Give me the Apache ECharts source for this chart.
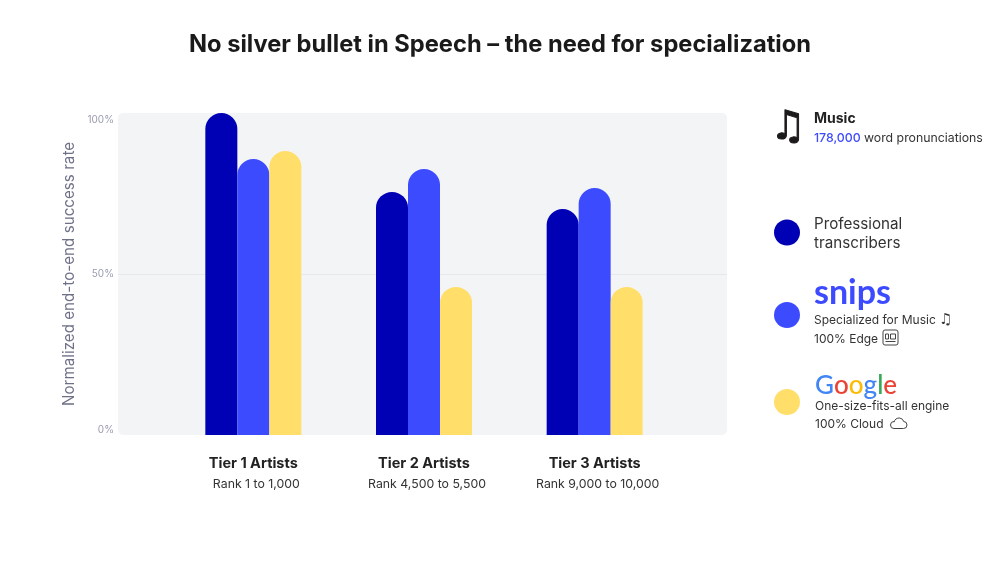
<!DOCTYPE html>
<html><head><meta charset="utf-8">
<style>html,body{margin:0;padding:0;background:#fff}#c{width:1000px;height:562px}</style>
<script src="https://cdn.jsdelivr.net/npm/echarts@6/dist/echarts.min.js"></script>
</head><body><div id="c"></div>
<script>
const FONT = 'Inter';
const titleText = 'No silver bullet in Speech – the need for specialization';
const yAxisTitle = 'Normalized end-to-end success rate';
const categories = ['Tier 1 Artists', 'Tier 2 Artists', 'Tier 3 Artists'];
const categorySubs = ['Rank 1 to 1,000', 'Rank 4,500 to 5,500', 'Rank 9,000 to 10,000'];
const seriesNames = ['Professional transcribers', 'snips', 'Google'];
const professional = [100, 75.5, 70.2];
const snips = [85.7, 82.6, 76.7];
const google = [88.2, 46, 46];
const colors = ['#0000b4', '#3d4bff', '#ffdf6a'];

const chart = echarts.init(document.getElementById('c'), null, {renderer: 'canvas'});
const top_ = 113, bottom_ = 127;
const sub = {fontFamily: FONT, fontSize: 12, color: '#333', lineHeight: 19};
const sub2 = {fontFamily: FONT, fontSize: 12, color: '#333', lineHeight: 18};
const logoG = c => ({fontFamily: 'Lato', fontSize: 26, fontWeight: 500, color: c, lineHeight: 22});

function bar(name, data, i) {
  return {name, type: 'bar', xAxisIndex: 1, yAxisIndex: 1, data, barWidth: 32, barGap: 0,
    itemStyle: {color: colors[i], borderRadius: [16, 16, 0, 0]}, silent: true};
}
function legend(name, y, formatter, rich, pad) {
  return {show: true, data: [{name, icon: 'circle'}], orient: 'vertical', left: 774, top: y,
    itemWidth: 26, itemHeight: 26, itemGap: 0, padding: 0, selectedMode: false, formatter,
    textStyle: {padding: pad, rich}};
}
const stroke = {fill: 'none', stroke: '#444', lineWidth: 1};
chart.setOption({
  animation: false,
  title: {text: titleText, left: 'center', top: 28,
    textStyle: {fontFamily: FONT, fontSize: 23.7, fontWeight: 700, color: '#1a1a1a'}},
  grid: [
    {left: 118, right: 273, top: top_, bottom: bottom_, show: false},
    {left: 168, width: 512, top: top_, bottom: bottom_, show: false}
  ],
  xAxis: [
    {gridIndex: 0, type: 'value', min: 0, max: 1, show: false},
    {gridIndex: 1, type: 'category', data: categories, axisLine: {show: false}, axisTick: {show: false},
      axisLabel: {margin: 19, interval: 0,
        formatter: (v, i) => `{a|${v}}\n{b|${categorySubs[i]}}`,
        rich: {a: {fontFamily: FONT, fontSize: 14.5, fontWeight: 700, color: '#222', lineHeight: 20},
               b: {fontFamily: FONT, fontSize: 12.3, color: '#333', lineHeight: 20, padding: [0, 0, 0, 6]}}}}
  ],
  yAxis: [
    {gridIndex: 0, type: 'value', min: 0, max: 100, interval: 50, name: yAxisTitle, nameLocation: 'middle',
      nameGap: 39, nameTextStyle: {fontFamily: FONT, fontSize: 15.2, color: '#6e7088'},
      axisLine: {show: false}, axisTick: {show: false},
      splitLine: {show: true, showMinLine: false, showMaxLine: false, lineStyle: {color: '#e7e8ec', width: 1}},
      axisLabel: {formatter: '{value}%', margin: 4, fontFamily: FONT, fontSize: 10, color: '#9a9cb0', padding: [2, 0, 0, 0],
        verticalAlignMinLabel: 'bottom', verticalAlignMaxLabel: 'top'}},
    {gridIndex: 1, type: 'value', min: 0, max: 100, show: false}
  ],
  legend: [
    legend(seriesNames[0], 217, () => '{t|Professional}\n{t|transcribers}',
      {t: {fontFamily: FONT, fontSize: 15.2, color: '#333', lineHeight: 19}}, [3, 0, 0, 9]),
    legend(seriesNames[1], 276, () => '{l|snips}\n{s|Specialized for Music }{m|♫}\n{s|100% Edge}',
      {l: {fontFamily: 'Lato', fontSize: 34, fontWeight: 700, color: colors[1], lineHeight: 35}, s: sub,
       m: {fontFamily: 'DejaVu Sans', fontSize: 15, color: '#333', lineHeight: 19}}, [0, 0, 6, 9]),
    legend(seriesNames[2], 373, () => '{b|G}{r|o}{y|o}{b|g}{g|l}{r|e}\n{s|One-size-fits-all engine}\n{s|100% Cloud}',
      {b: logoG('#4285f4'), r: logoG('#ea4335'), y: logoG('#fbbc05'), g: logoG('#34a853'), s: sub2}, [4, 0, 0, 10])
  ],
  series: [bar(seriesNames[0], professional, 0), bar(seriesNames[1], snips, 1), bar(seriesNames[2], google, 2)],
  graphic: [
    {type: 'rect', z: -10, silent: true, shape: {x: 118, y: 113, width: 609, height: 322, r: 5}, style: {fill: '#f3f4f6'}},
    {type: 'text', x: 770, y: 109, silent: true, style: {text: '♫', font: 'bold 40px "DejaVu Sans"', fill: '#1d1a1a', stroke: '#1d1a1a', lineWidth: 1}},
    {type: 'text', x: 814, y: 112, silent: true, style: {text: 'Music', font: '700 14px ' + FONT, fill: '#222'}},
    {type: 'text', x: 814, y: 132, silent: true, style: {
      text: '{n|178,000} {w|word pronunciations}',
      rich: {n: {fontFamily: FONT, fontSize: 12.3, fontWeight: 500, fill: colors[1]},
             w: {fontFamily: FONT, fontSize: 12.3, fill: '#333'}}}},
    {type: 'group', x: 883, y: 330, silent: true, children: [
      {type: 'rect', shape: {x: 0, y: 0, width: 15, height: 15, r: 2}, style: stroke},
      {type: 'rect', shape: {x: 2.5, y: 4, width: 3, height: 5}, style: stroke},
      {type: 'rect', shape: {x: 7.5, y: 4, width: 5, height: 5}, style: stroke},
      {type: 'line', shape: {x1: 2.5, y1: 11.5, x2: 12.5, y2: 11.5}, style: stroke}
    ]},
    {type: 'group', x: 890, y: 417, silent: true, children: [
      {type: 'arc', shape: {cx: 4, cy: 8, r: 3.5, startAngle: Math.PI * 0.5, endAngle: Math.PI * 1.5}, style: stroke},
      {type: 'arc', shape: {cx: 9, cy: 6, r: 5, startAngle: Math.PI * 1.05, endAngle: Math.PI * 1.9}, style: stroke},
      {type: 'arc', shape: {cx: 13.5, cy: 8, r: 3.5, startAngle: Math.PI * 1.5, endAngle: Math.PI * 0.5}, style: stroke},
      {type: 'line', shape: {x1: 4, y1: 11.5, x2: 13.5, y2: 11.5}, style: stroke}
    ]}
  ]
});
</script></body></html>
